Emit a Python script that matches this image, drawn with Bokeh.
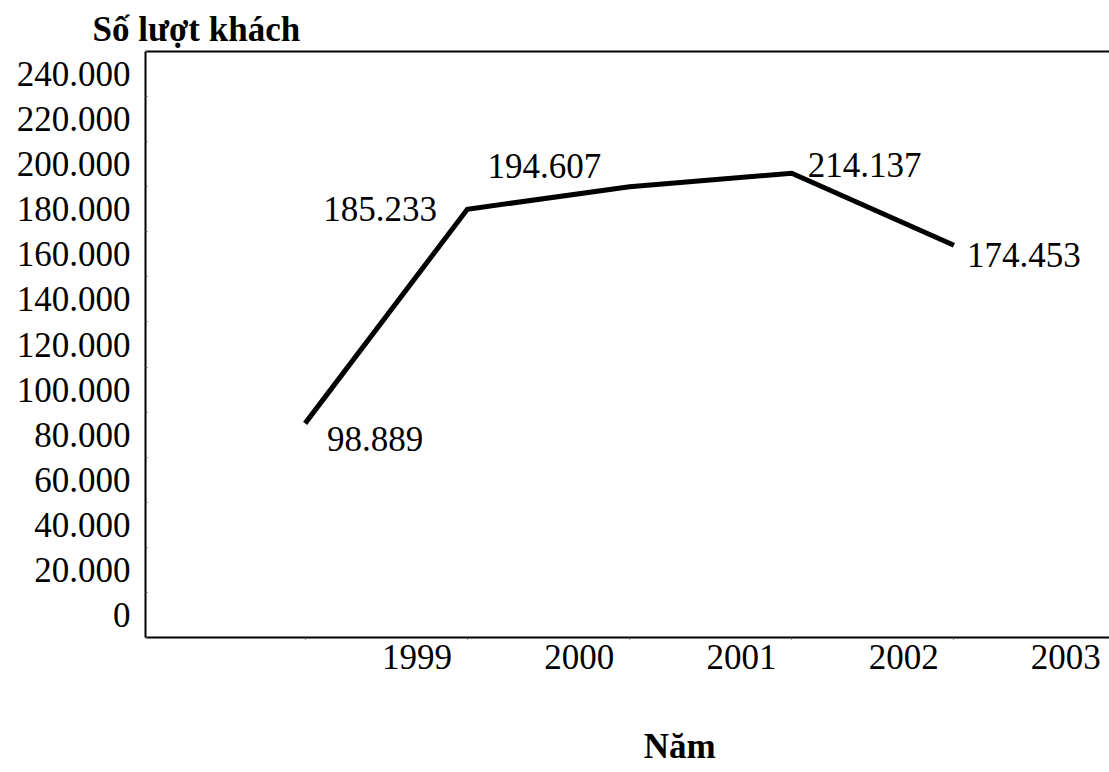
from bokeh.plotting import figure
from bokeh.models import ColumnDataSource, FixedTicker, LinearAxis, Title, Range1d
from bokeh.core.properties import value
from bokeh.embed import file_html
from bokeh.resources import INLINE

# ---- data ----
years = ["1999", "2000", "2001", "2002", "2003"]
visitors_plotted = [95000, 190000, 200000, 206000, 174000]   # line as drawn in the picture
visitor_labels = ["98.889", "185.233", "194.607", "214.137", "174.453"]
y_tick_values = [0, 20000, 40000, 60000, 80000, 100000, 120000,
                 140000, 160000, 180000, 200000, 220000, 240000]
y_tick_labels = ["0", "20.000", "40.000", "60.000", "80.000", "100.000", "120.000",
                 "140.000", "160.000", "180.000", "200.000", "220.000", "240.000"]

# ---- style ----
FONT = "Liberation Serif"
FS = "35px"
label_dx = [22, -144, -142, 16, 13]
label_dy = [16, 0, -21, -8, 10]
step = 20000
label_shift = 0.69
x_title_pos = 2.31

idx = list(range(len(years)))

p = figure(width=1109, height=772, output_backend="svg", toolbar_location=None,
           x_range=Range1d(-0.984, 4.959), y_range=Range1d(0, 260000),
           x_axis_location=None, y_axis_location=None,
           min_border_left=145, min_border_right=0,
           min_border_top=51, min_border_bottom=135)
p.outline_line_color = None
p.xgrid.visible = False
p.ygrid.visible = False
p.background_fill_color = "white"
p.border_fill_color = "white"

# y axis: labels sit halfway between the tick marks
ymaj = [v + step // 2 for v in y_tick_values]
yaxis = LinearAxis(ticker=FixedTicker(ticks=ymaj, minor_ticks=y_tick_values + [y_tick_values[-1] + step]),
                   major_label_overrides={m: t for m, t in zip(ymaj, y_tick_labels)},
                   axis_line_color="black", axis_line_width=2,
                   major_tick_line_color=None, major_tick_in=0, major_tick_out=0,
                   minor_tick_line_color="#555555", minor_tick_in=2, minor_tick_out=0,
                   major_label_standoff=15,
                   major_label_text_font=FONT, major_label_text_font_size=FS,
                   major_label_text_color="black")
p.add_layout(yaxis, "left")

xmaj = [i + label_shift for i in idx]
xaxis = LinearAxis(ticker=FixedTicker(ticks=xmaj, minor_ticks=idx),
                   major_label_overrides={m: t for m, t in zip(xmaj, years)},
                   axis_line_color="black", axis_line_width=2,
                   major_tick_line_color=None, major_tick_in=0, major_tick_out=0,
                   minor_tick_line_color="#555555", minor_tick_in=0, minor_tick_out=2,
                   major_label_standoff=5,
                   major_label_text_font=FONT, major_label_text_font_size=FS,
                   major_label_text_color="black")
p.add_layout(xaxis, "below")

# x-axis title "Năm" drawn as a lone label of a second, invisible bottom axis
xtitle_axis = LinearAxis(ticker=FixedTicker(ticks=[x_title_pos], minor_ticks=[]),
                         major_label_overrides={x_title_pos: "Năm"},
                         axis_line_color=None, major_tick_line_color=None,
                         minor_tick_line_color=None, major_tick_in=0, major_tick_out=0,
                         major_label_standoff=55,
                         major_label_text_font=FONT, major_label_text_font_size=FS,
                         major_label_text_font_style="bold",
                         major_label_text_color="black")
p.add_layout(xtitle_axis, "below")

top_axis = LinearAxis(ticker=FixedTicker(ticks=[]),
                      axis_line_color="black", axis_line_width=2,
                      major_tick_line_color=None, minor_tick_line_color=None,
                      major_label_text_font_size="0px")
p.add_layout(top_axis, "above")

p.add_layout(Title(text="Số lượt khách", align="left", offset=-53,
                   text_font=FONT, text_font_size=FS, text_font_style="bold",
                   text_color="black", standoff=6), "above")

src = ColumnDataSource(dict(x=idx, y=visitors_plotted, text=visitor_labels,
                            dx=label_dx, dy=label_dy))
p.line("x", "y", source=src, line_width=5, line_color="black",
       line_cap="butt", line_join="miter")
p.text("x", "y", text="text", source=src, x_offset="dx", y_offset="dy",
       text_font=value(FONT), text_font_size=FS, text_color="black",
       text_align="left", text_baseline="middle")

open("out.html", "w").write(file_html(p, INLINE))
